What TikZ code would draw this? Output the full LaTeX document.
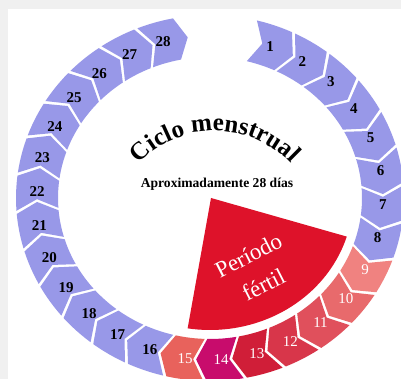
\documentclass[tikz,border=0pt]{standalone}
\usepackage{fontspec}
\setmainfont{Liberation Serif}
\usetikzlibrary{decorations.text}
\definecolor{framegray}{RGB}{240,240,240}
\definecolor{segblue}{RGB}{152,152,232}
\definecolor{seg9}{RGB}{240,130,128}
\definecolor{seg10}{RGB}{232,106,108}
\definecolor{seg11}{RGB}{224,80,92}
\definecolor{seg12}{RGB}{216,54,74}
\definecolor{seg13}{RGB}{208,30,56}
\definecolor{seg14}{RGB}{200,12,108}
\definecolor{seg15}{RGB}{232,98,92}
\definecolor{wedgered}{RGB}{222,18,42}
\begin{document}
\begin{tikzpicture}[x=1pt,y=-1pt,
  declare function={ex(\t,\r)=210+(173+\r)*sin(\t); ey(\t,\r)=198-(162+\r)*cos(\t);},
  lbl/.style={font=\fontsize{15}{15}\selectfont, inner sep=0pt}]
\useasboundingbox (0,0) rectangle (401,379);
\fill[white] (0,0) rectangle (401,379);
\fill[framegray] (0,0) rectangle (401,9);
\fill[framegray] (0,0) rectangle (8,379);
% Fertile period wedge
\fill[wedgered] (211,198) -- plot[domain=107:189, samples=40] ({210+143*sin(\x)},{198-132*cos(\x)}) -- cycle;
% Ring segments
\foreach \k/\c/\tc/\fw in {1/segblue/black/\bfseries, 2/segblue/black/\bfseries, 3/segblue/black/\bfseries,
  4/segblue/black/\bfseries, 5/segblue/black/\bfseries, 6/segblue/black/\bfseries, 7/segblue/black/\bfseries,
  8/segblue/black/\bfseries, 9/seg9/white/\mdseries, 10/seg10/white/\mdseries, 11/seg11/white/\mdseries,
  12/seg12/white/\mdseries, 13/seg13/white/\mdseries, 14/seg14/white/\mdseries, 15/seg15/white/\mdseries,
  16/segblue/black/\bfseries, 17/segblue/black/\bfseries, 18/segblue/black/\bfseries, 19/segblue/black/\bfseries,
  20/segblue/black/\bfseries, 21/segblue/black/\bfseries, 22/segblue/black/\bfseries, 23/segblue/black/\bfseries,
  24/segblue/black/\bfseries, 25/segblue/black/\bfseries, 26/segblue/black/\bfseries, 27/segblue/black/\bfseries,
  28/segblue/black/\bfseries} {
  \pgfmathsetmacro\th{19.5+12*(\k-1)}
  \pgfmathsetmacro\ta{\th-5.5}
  \pgfmathsetmacro\tb{\th+5.5}
  \pgfmathsetmacro\tam{\ta+3.6}
  \pgfmathsetmacro\tbm{\tb+3.6}
  \fill[\c] plot[domain=\ta:\tb, samples=7] ({ex(\x,21)},{ey(\x,21)})
     -- ({ex(\tbm,0)},{ey(\tbm,0)})
     -- plot[domain=\tb:\ta, samples=7] ({ex(\x,-21)},{ey(\x,-21)})
     -- ({ex(\tam,0)},{ey(\tam,0)}) -- cycle;
  \node[lbl, text=\tc, font=\fontsize{15}{15}\selectfont\fw] (n\k) at ({ex(\th+0.8,0)},{ey(\th+0.8,0)}) {\k};
}
% Title along an arc
\path[decorate, decoration={text along path, text align=center,
   text={|\fontsize{25}{25}\selectfont\bfseries|Ciclo menstrual}}]
   plot[domain=150:30, samples=60] ({215+104*cos(\x)},{235-104*sin(\x)});
\node[font=\fontsize{13.6}{14}\selectfont\bfseries] (sub) at (217,184) {Aproximadamente 28 días};
\node[rotate=27, text=white, font=\fontsize{23}{33}\selectfont, align=center] (pf) at (256,270) {Período\\fértil};
\end{tikzpicture}
\end{document}
